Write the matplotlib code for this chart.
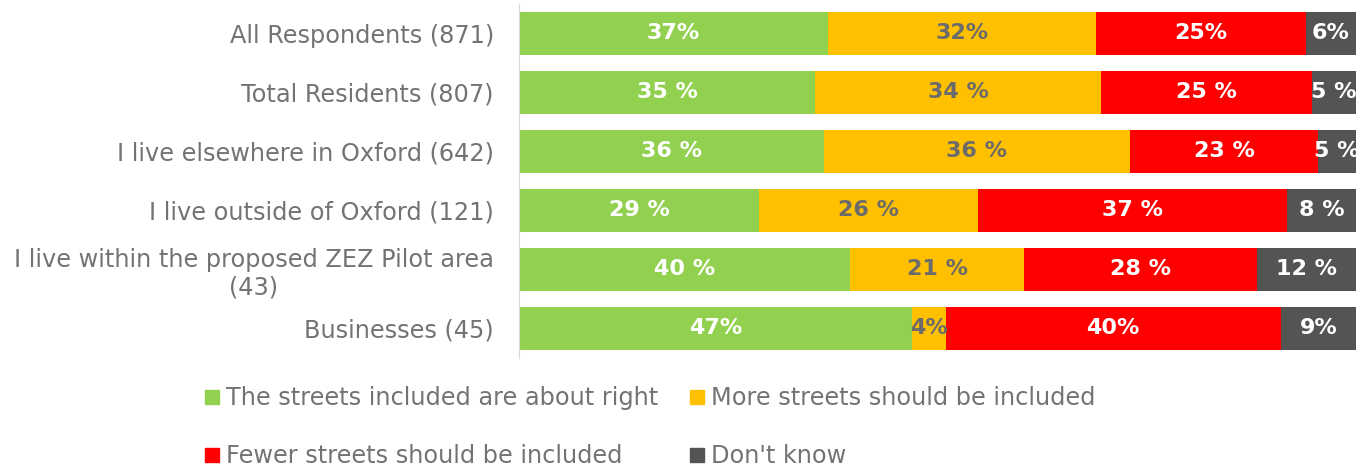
import matplotlib

matplotlib.use("Agg")
import matplotlib.pyplot as plt
from matplotlib.lines import Line2D

# --- data -----------------------------------------------------------------
categories = [
    "All Respondents (871)",
    "Total Residents (807)",
    "I live elsewhere in Oxford (642)",
    "I live outside of Oxford (121)",
    "I live within the proposed ZEZ Pilot area\n(43)",
    "Businesses (45)",
]
series_names = [
    "The streets included are about right",
    "More streets should be included",
    "Fewer streets should be included",
    "Don't know",
]
about_right = [36.9, 35.4, 36.4, 28.7, 39.5, 47.0]
more_streets = [32.1, 34.2, 36.6, 26.2, 20.9, 4.0]
fewer_streets = [25.0, 25.1, 22.5, 36.9, 27.8, 40.0]
dont_know = [6.0, 5.3, 4.5, 8.2, 11.8, 9.0]

about_right_labels = ["37%", "35 %", "36 %", "29 %", "40 %", "47%"]
more_streets_labels = ["32%", "34 %", "36 %", "26 %", "21 %", "4%"]
fewer_streets_labels = ["25%", "25 %", "23 %", "37 %", "28 %", "40%"]
dont_know_labels = ["6%", "5 %", "5 %", "8 %", "12 %", "9%"]

# --- style ----------------------------------------------------------------
COLORS = ["#92d050", "#ffc000", "#ff0000", "#545454"]
LABEL_COLORS = ["white", "#6b6b6b", "white", "white"]
TEXT_GREY = "#737373"

plt.rcParams["font.family"] = ["DejaVu Sans"]

fig = plt.figure(figsize=(13.6, 4.68), dpi=100)
ax = fig.add_axes([0.3816, 0.236, 0.6154, 0.7555])

series = [about_right, more_streets, fewer_streets, dont_know]
labels = [about_right_labels, more_streets_labels, fewer_streets_labels, dont_know_labels]
ypos = list(range(len(categories)))

left = [0.0] * len(categories)
for vals, labs, color, tcolor in zip(series, labels, COLORS, LABEL_COLORS):
    bars = ax.barh(ypos, vals, left=left, height=0.73, color=color, edgecolor="none")
    ax.bar_label(bars, labels=labs, label_type="center", color=tcolor,
                 fontsize=16, fontweight="bold")
    left = [l + v for l, v in zip(left, vals)]

ax.set_xlim(0, 100)
ax.set_ylim(len(categories) - 0.5, -0.5)
ax.set_yticks(ypos)
ax.set_yticklabels(categories, fontsize=17.3, color=TEXT_GREY)
for t in ax.get_yticklabels():
    t.set_multialignment("center")
ax.tick_params(axis="y", length=0, pad=18)
ax.set_xticks([])
for side in ("top", "right", "bottom"):
    ax.spines[side].set_visible(False)
ax.spines["left"].set_color("#d9d9d9")

# Legend: two columns, green/yellow on first row, red/grey on second
handles = [
    Line2D([], [], marker="s", linestyle="none", markersize=10,
           markerfacecolor=c, markeredgecolor=c)
    for c in COLORS
]
order = [0, 2, 1, 3]
fig.legend(
    [handles[i] for i in order],
    [series_names[i] for i in order],
    loc="upper left",
    bbox_to_anchor=(0.151, 0.175),
    ncol=2,
    frameon=False,
    fontsize=17.3,
    labelcolor=TEXT_GREY,
    handlelength=0.55,
    handletextpad=0.3,
    columnspacing=1.35,
    labelspacing=1.42,
    borderaxespad=0,
    borderpad=0,
)

fig.savefig("out.png", dpi=100)
